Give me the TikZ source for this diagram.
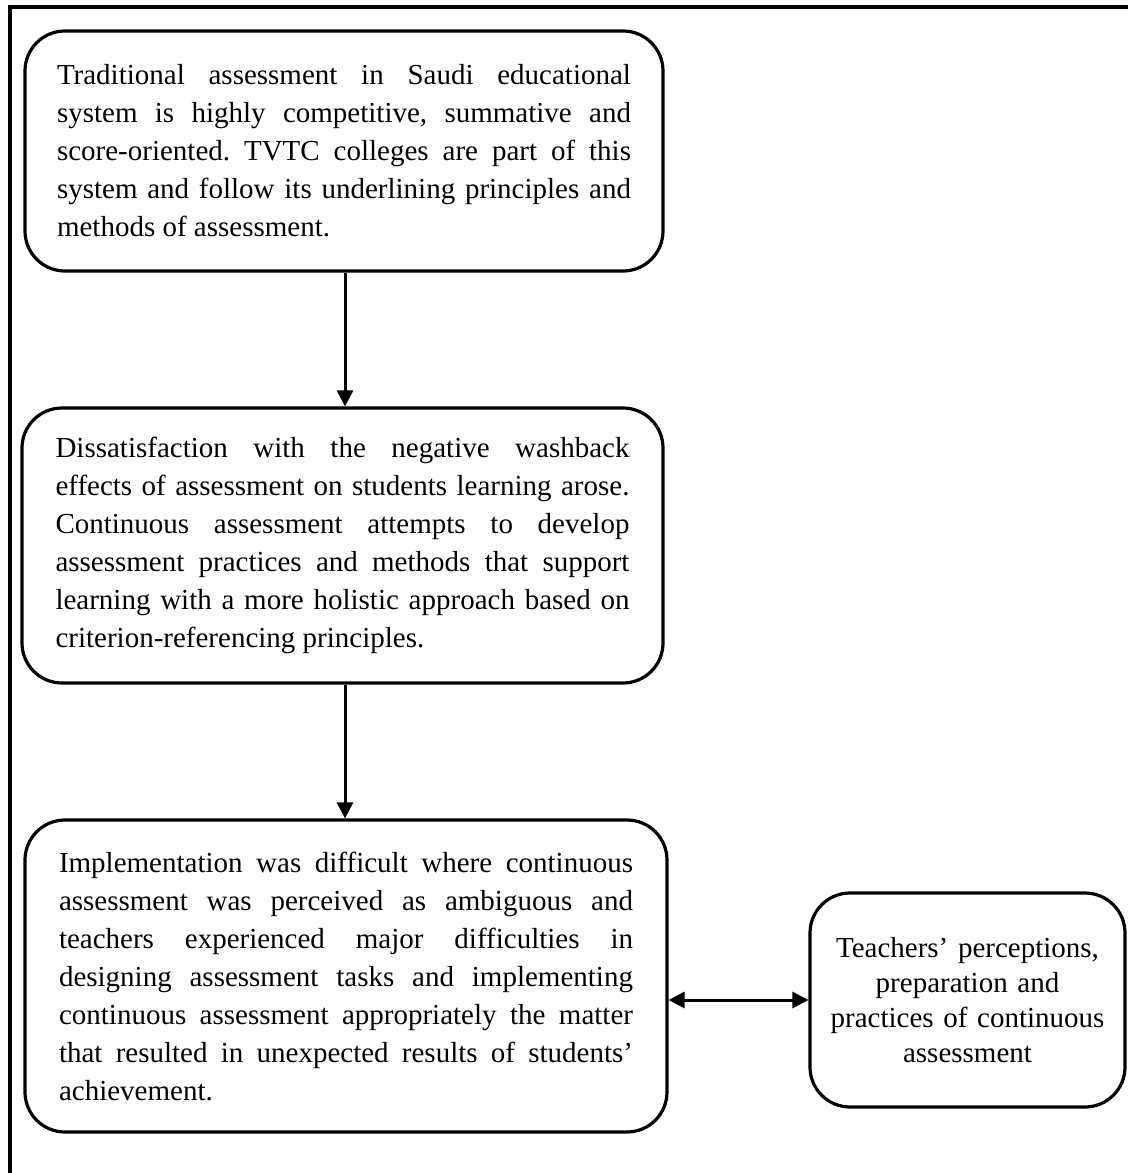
\documentclass[tikz,border=0pt]{standalone}
\usepackage{fontspec}
\setmainfont{Liberation Serif}
\usetikzlibrary{arrows.meta}
\begin{document}
\begin{tikzpicture}[x=1pt,y=-1pt,
  flowbox/.style={draw, line width=3.2pt, rounded corners=40pt, inner sep=0pt,
    text width=574pt, align=justify,
    font=\fontsize{29}{38}\selectfont,
    execute at begin node={\tolerance=10000 \hyphenpenalty=10000 \frenchspacing}},
  sidebox/.style={draw, line width=3.2pt, rounded corners=40pt, inner sep=0pt,
    text width=300pt, align=center,
    font=\fontsize{29}{35}\selectfont},
  flowarrow/.style={line width=3pt, -{Triangle[length=16pt,width=16pt]}},
  botharrow/.style={line width=3pt, {Triangle[length=16pt,width=16pt]}-{Triangle[length=16pt,width=16pt]}}
]
\useasboundingbox (0,0) rectangle (1129,1173);
\draw[line width=4.5pt] (10,1173) -- (10,7) -- (1128,7);

\node[flowbox, minimum width=638pt, minimum height=240pt] (box1) at (344,151)
 {Traditional assessment in Saudi educational\linebreak
  system is highly competitive, summative and\linebreak
  score-oriented. TVTC colleges are part of this\linebreak
  system and follow its underlining principles and\linebreak
  methods of assessment.};

\node[flowbox, minimum width=641pt, minimum height=275pt] (box2) at (342.5,545.5)
 {Dissatisfaction with the negative washback\linebreak
  effects of assessment on students learning arose.\linebreak
  Continuous assessment attempts to develop\linebreak
  assessment practices and methods that support\linebreak
  learning with a more holistic approach based on\linebreak
  criterion-referencing principles.};

\node[flowbox, minimum width=642pt, minimum height=312pt] (box3) at (346,976)
 {Implementation was difficult where continuous\linebreak
  assessment was perceived as ambiguous and\linebreak
  teachers experienced major difficulties in\linebreak
  designing assessment tasks and implementing\linebreak
  continuous assessment appropriately the matter\linebreak
  that resulted in unexpected results of students’\linebreak
  achievement.};

\node[sidebox, minimum width=315pt, minimum height=214pt] (box4) at (967.5,1000)
 {Teachers’ perceptions,\\ preparation and\\ practices of continuous\\ assessment};

\draw[flowarrow] (box1.south -| 345,0) -- (box2.north -| 345,0);
\draw[flowarrow] (box2.south -| 345,0) -- (box3.north -| 345,0);
\draw[botharrow] (box3.east |- 0,1000) -- (box4.west |- 0,1000);
\end{tikzpicture}
\end{document}
